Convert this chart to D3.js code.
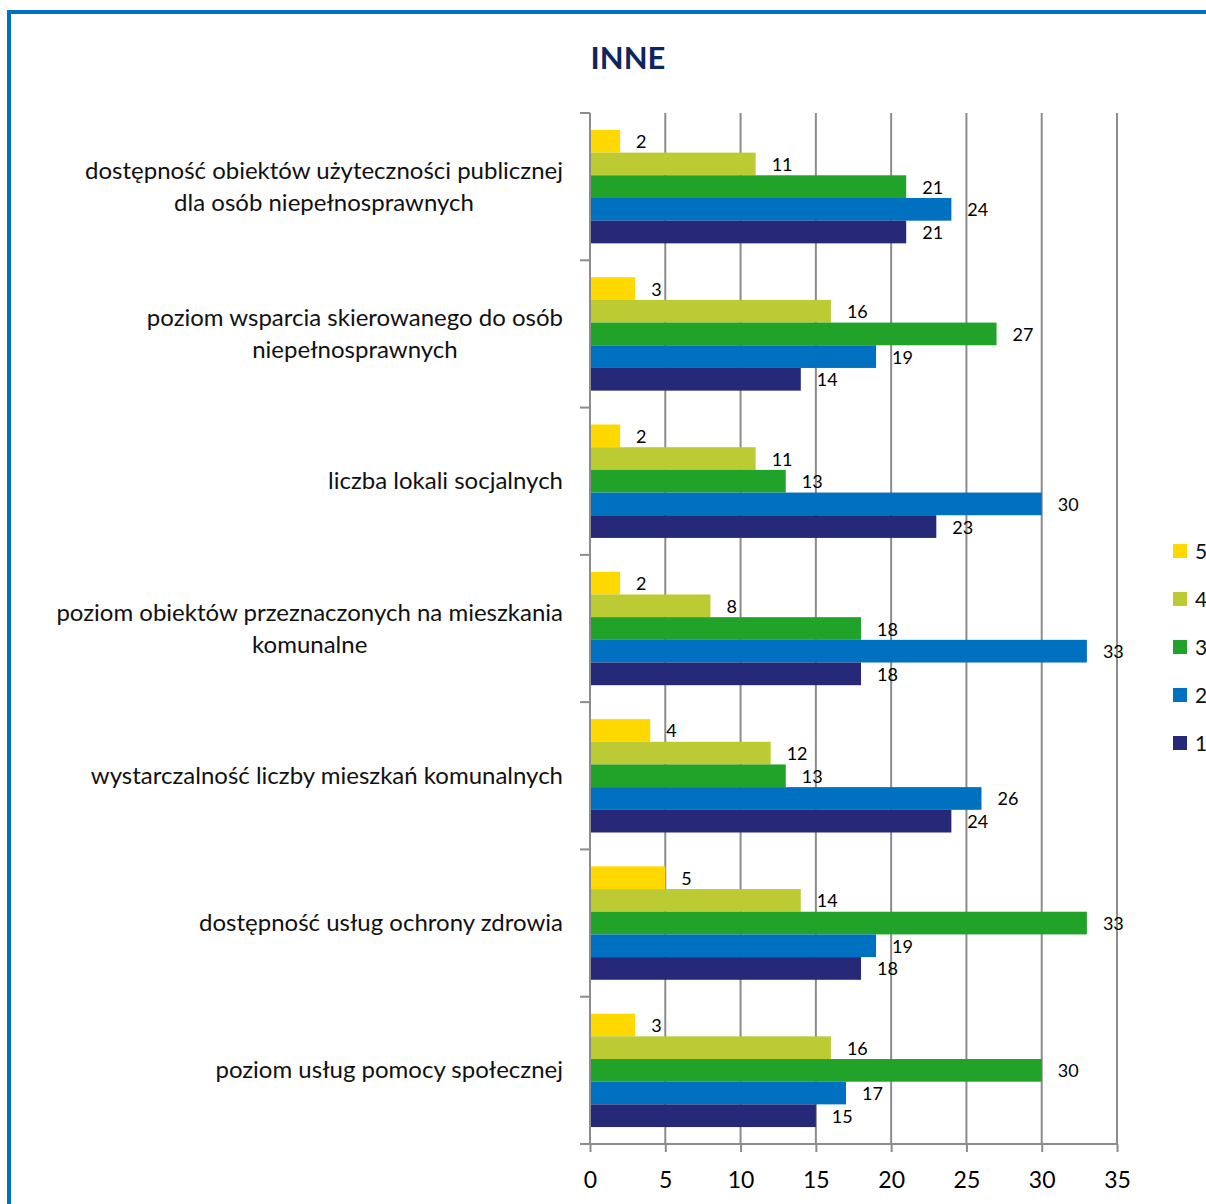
<!DOCTYPE html>
<html>
<head>
<meta charset="utf-8">
<script src="https://cdn.jsdelivr.net/npm/d3@7"></script>
<style>
  body { margin: 0; background: #fff; }
  svg text { font-family: Lato, "Open Sans", sans-serif; }
</style>
</head>
<body>
<script>
// categories, top to bottom (each label split into its lines)
var categories = [
  ["dostępność obiektów użyteczności publicznej", "dla osób niepełnosprawnych"],
  ["poziom wsparcia skierowanego do osób", "niepełnosprawnych"],
  ["liczba lokali socjalnych"],
  ["poziom obiektów przeznaczonych na mieszkania", "komunalne"],
  ["wystarczalność liczby mieszkań komunalnych"],
  ["dostępność usług ochrony zdrowia"],
  ["poziom usług pomocy społecznej"]
];
// series in drawing order inside each group (top to bottom)
var seriesNames = ["5", "4", "3", "2", "1"];
var s5 = [2, 3, 2, 2, 4, 5, 3];
var s4 = [11, 16, 11, 8, 12, 14, 16];
var s3 = [21, 27, 13, 18, 13, 33, 30];
var s2 = [24, 19, 30, 33, 26, 19, 17];
var s1 = [21, 14, 23, 18, 24, 18, 15];
var seriesValues = [s5, s4, s3, s2, s1];
var seriesColors = ["#ffd800", "#bccb33", "#21a229", "#0070c0", "#262878"];
var xTicks = [0, 5, 10, 15, 20, 25, 30, 35];

var W = 1206, H = 1204;
var svg = d3.select("body").append("svg").attr("width", W).attr("height", H);

// blue frame, open on right and bottom
svg.append("path")
  .attr("d", "M9,1204V12H1206")
  .attr("fill", "none")
  .attr("stroke", "#0070c0")
  .attr("stroke-width", 4);

svg.append("text")
  .attr("x", 628).attr("y", 69)
  .attr("text-anchor", "middle")
  .attr("font-size", 31).attr("font-weight", "bold")
  .attr("fill", "#0e2560")
  .text("INNE");

var pLeft = 590, pRight = 1117, pTop = 113, pBottom = 1144;

var x = d3.scaleLinear().domain([0, 35]).range([pLeft, pRight]);
var y = d3.scaleBand().domain(d3.range(categories.length)).range([pTop, pBottom])
  .paddingInner(0.23).paddingOuter(0.115);
var ys = d3.scaleBand().domain(seriesNames).range([0, y.bandwidth()]);
var outer = d3.scaleBand().domain(d3.range(categories.length)).range([pTop, pBottom]);

// vertical gridlines
svg.append("g").selectAll("line").data(xTicks.slice(1)).join("line")
  .attr("x1", d => x(d)).attr("x2", d => x(d))
  .attr("y1", pTop).attr("y2", pBottom)
  .attr("stroke", "#8c8c8c").attr("stroke-width", 2);

// bars
var groups = svg.append("g").selectAll("g").data(seriesNames).join("g")
  .attr("fill", (d, i) => seriesColors[i]);
groups.selectAll("rect")
  .data((s, i) => seriesValues[i].map((v, c) => ({ s: s, v: v, c: c })))
  .join("rect")
  .attr("x", x(0))
  .attr("y", d => y(d.c) + ys(d.s))
  .attr("width", d => x(d.v) - x(0))
  .attr("height", ys.bandwidth());

// value labels
groups.selectAll("text")
  .data((s, i) => seriesValues[i].map((v, c) => ({ s: s, v: v, c: c })))
  .join("text")
  .attr("x", d => x(d.v) + 16)
  .attr("y", d => y(d.c) + ys(d.s) + ys.bandwidth() / 2 + 7)
  .attr("font-size", 18).attr("fill", "#000")
  .text(d => d.v);

// x axis
var xAxis = svg.append("g").attr("transform", "translate(0," + pBottom + ")")
  .call(d3.axisBottom(x).tickValues(xTicks).tickSize(8).tickPadding(20));
xAxis.select(".domain").attr("stroke", "#8c8c8c").attr("stroke-width", 2)
  .attr("d", "M" + (pLeft - 10) + ",0H" + pRight);
xAxis.selectAll(".tick line").attr("stroke", "#8c8c8c").attr("stroke-width", 2);
xAxis.selectAll(".tick text").attr("font-size", 23).attr("fill", "#000")
  .attr("font-family", "Lato, 'Open Sans', sans-serif");

// y axis: line and category ticks
svg.append("line").attr("x1", pLeft).attr("x2", pLeft).attr("y1", pTop).attr("y2", pBottom)
  .attr("stroke", "#8c8c8c").attr("stroke-width", 2);
svg.append("g").selectAll("line").data(d3.range(categories.length)).join("line")
  .attr("x1", pLeft - 10).attr("x2", pLeft)
  .attr("y1", d => outer(d)).attr("y2", d => outer(d))
  .attr("stroke", "#8c8c8c").attr("stroke-width", 2);

// category labels: block right aligned, lines centred
var catG = svg.append("g").selectAll("g").data(categories).join("g");
catG.each(function (lines, i) {
  var g = d3.select(this);
  var lh = 32;
  var cy = y(i) + y.bandwidth() / 2 + 8 - (lines.length - 1) * lh / 2;
  var texts = g.selectAll("text").data(lines).join("text")
    .attr("y", (d, k) => cy + k * lh)
    .attr("font-size", 24).attr("fill", "#111")
    .attr("text-anchor", "middle")
    .text(d => d);
  var maxW = 0;
  texts.each(function () { maxW = Math.max(maxW, this.getComputedTextLength()); });
  texts.attr("x", 563 - maxW / 2);
});

// legend (5 on top)
var leg = svg.append("g").selectAll("g").data(seriesNames).join("g")
  .attr("transform", (d, i) => "translate(1173," + (544 + i * 48) + ")");
leg.append("rect").attr("width", 14).attr("height", 14)
  .attr("fill", (d, i) => seriesColors[i]);
leg.append("text").attr("x", 22).attr("y", 15)
  .attr("font-size", 21).attr("fill", "#111").text(d => d);
</script>
</body>
</html>
